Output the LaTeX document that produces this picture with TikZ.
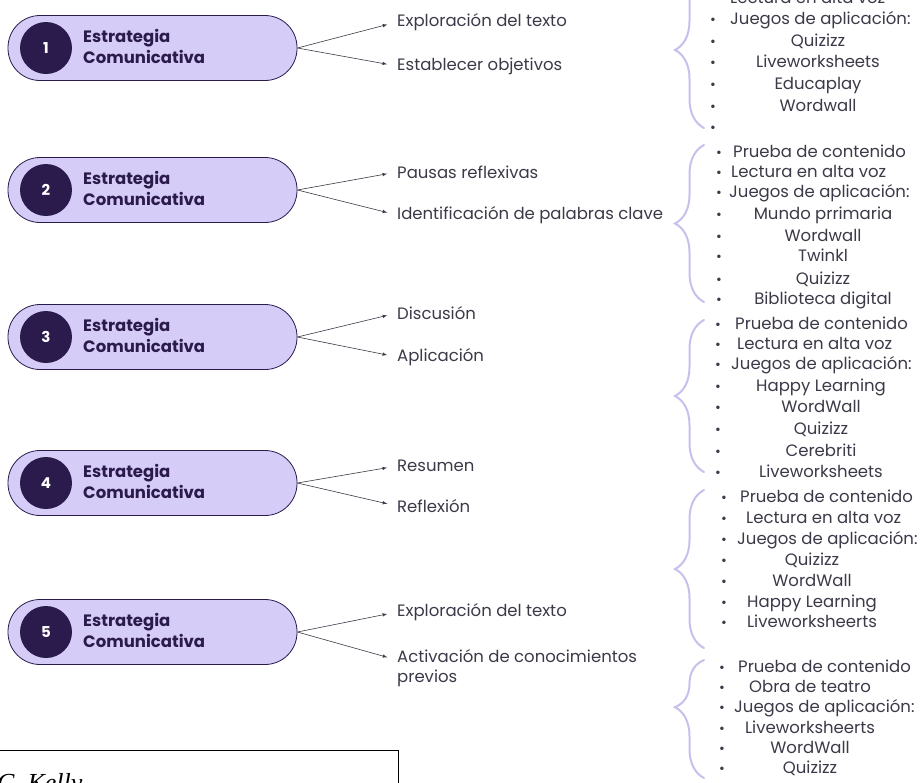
\documentclass[tikz,border=0pt]{standalone}
\usepackage{fontspec}
\setmainfont{Poppins}
\newfontfamily\capfont{Liberation Serif}
\usepackage{tikz}
\usetikzlibrary{arrows.meta,decorations.pathreplacing}

\definecolor{pillfill}{HTML}{D5CDF8}
\definecolor{darkpurple}{HTML}{2B1A4C}
\definecolor{bracecol}{HTML}{C8C0EC}
\definecolor{txtgray}{HTML}{3A3A48}

\begin{document}
\begin{tikzpicture}[x=1pt,y=-1pt,
    pill/.style={draw=darkpurple,line width=0.8pt,fill=pillfill,rounded corners=32pt,minimum width=289pt,minimum height=65pt},
    numcirc/.style={circle,fill=darkpurple,minimum size=52pt,inner sep=0pt,text=white,font=\bfseries\fontsize{15}{15}\selectfont},
    strtitle/.style={anchor=west,align=left,text=darkpurple,inner sep=0pt,font=\bfseries\fontsize{16.5}{21}\selectfont},
    brlabel/.style={anchor=west,align=left,text=txtgray,inner sep=0pt,font=\fontsize{16.5}{20}\selectfont},
    listitem/.style={text=txtgray,inner sep=0pt,text height=12pt,text depth=3pt,font=\fontsize{16.5}{18}\selectfont},
    bulletdot/.style={listitem,font=\fontsize{14}{14}\selectfont},
    arr/.style={draw=txtgray,line width=0.6pt,-{latex},shorten >=10pt},
    brc/.style={draw=bracecol,line width=2pt,line cap=round,decorate,decoration={brace,amplitude=29pt}}]

    \useasboundingbox (0,0) rectangle (920,782);
    \fill[white] (0,0) rectangle (920,782);
    \clip (0,0) rectangle (920,782);

    % strategies
    % nodes
    \node[pill] (s1) at (152.5,48) {};
    \node[pill] (s2) at (152.5,190) {};
    \node[pill] (s3) at (152.5,337) {};
    \node[pill] (s4) at (152.5,483) {};
    \node[pill] (s5) at (152.5,632) {};
    \node[numcirc] (c1) at (46,48) {1};
    \node[numcirc] (c2) at (46,190) {2};
    \node[numcirc] (c3) at (46,337) {3};
    \node[numcirc] (c4) at (46,483) {4};
    \node[numcirc] (c5) at (46,632) {5};
    \node[strtitle] (t1) at (83,46) {Estrategia\\Comunicativa};
    \node[strtitle] (t2) at (83,188) {Estrategia\\Comunicativa};
    \node[strtitle] (t3) at (83,335) {Estrategia\\Comunicativa};
    \node[strtitle] (t4) at (83,481) {Estrategia\\Comunicativa};
    \node[strtitle] (t5) at (83,630) {Estrategia\\Comunicativa};

    % branches
    \node[brlabel] (e1a) at (397,22) {Exploración del texto};
    \node[brlabel] (e1b) at (397,66) {Establecer objetivos};
    \node[brlabel] (e2a) at (397,172) {Pausas reflexivas};
    \node[brlabel] (e2b) at (397,215) {Identificación de palabras clave};
    \node[brlabel] (e3a) at (397,313) {Discusión};
    \node[brlabel] (e3b) at (397,357) {Aplicación};
    \node[brlabel] (e4a) at (397,466) {Resumen};
    \node[brlabel] (e4b) at (397,506) {Reflexión};
    \node[brlabel] (e5a) at (397,612) {Exploración del texto};
    \node[brlabel,anchor=north west] (e5b) at (397,649) {Activación de conocimientos\\previos};

    % paths
    \draw[arr] (s1.east) to (e1a.west);
    \draw[arr] (s1.east) to (e1b.west);
    \draw[arr] (s2.east) to (e2a.west);
    \draw[arr] (s2.east) to (e2b.west);
    \draw[arr] (s3.east) to (e3a.west);
    \draw[arr] (s3.east) to (e3b.west);
    \draw[arr] (s4.east) to (e4a.west);
    \draw[arr] (s4.east) to (e4b.west);
    \draw[arr] (s5.east) to (e5a.west);
    \draw[arr] (s5.east) to ([yshift=-11pt]e5b.north west);

    % braces
    \draw[brc] (704,128) -- (704,-28);
    \draw[brc] (704,302) -- (704,145);
    \draw[brc] (704,472) -- (704,320);
    \draw[brc] (704,648) -- (704,490);
    \draw[brc,decoration={aspect=0.6}] (704,778) -- (704,660);

    % list 1
    \node[bulletdot] (b1a) at (713,-1) {•};
    \node[bulletdot] (b1b) at (713,20) {•};
    \node[bulletdot] (b1c) at (713,42) {•};
    \node[bulletdot] (b1d) at (713,63) {•};
    \node[bulletdot] (b1e) at (713,85) {•};
    \node[bulletdot] (b1f) at (713,107) {•};
    \node[bulletdot] (b1g) at (713,128) {•};
    \node[listitem,anchor=west] (l1a) at (730,-1) {Lectura en alta voz};
    \node[listitem,anchor=west] (l1b) at (730,20) {Juegos de aplicación:};
    \node[listitem] (l1c) at (818,42) {Quizizz};
    \node[listitem] (l1d) at (818,63) {Liveworksheets};
    \node[listitem] (l1e) at (818,85) {Educaplay};
    \node[listitem] (l1f) at (818,107) {Wordwall};

    % list 2
    \node[bulletdot] (b2a) at (719,153) {•};
    \node[bulletdot] (b2b) at (719,173) {•};
    \node[bulletdot] (b2c) at (719,193) {•};
    \node[bulletdot] (b2d) at (719,215) {•};
    \node[bulletdot] (b2e) at (719,237) {•};
    \node[bulletdot] (b2f) at (719,257) {•};
    \node[bulletdot] (b2g) at (719,280) {•};
    \node[bulletdot] (b2h) at (719,300) {•};
    \node[listitem,anchor=west] (l2a) at (733,153) {Prueba de contenido};
    \node[listitem,anchor=west] (l2b) at (731,173) {Lectura en alta voz};
    \node[listitem,anchor=west] (l2c) at (729,193) {Juegos de aplicación:};
    \node[listitem] (l2d) at (823,215) {Mundo prrimaria};
    \node[listitem] (l2e) at (823,237) {Wordwall};
    \node[listitem] (l2f) at (823,257) {Twinkl};
    \node[listitem] (l2g) at (823,280) {Quizizz};
    \node[listitem] (l2h) at (823,300) {Biblioteca digital};

    % list 3
    \node[bulletdot] (b3a) at (718,325) {•};
    \node[bulletdot] (b3b) at (718,345) {•};
    \node[bulletdot] (b3c) at (718,365) {•};
    \node[bulletdot] (b3d) at (718,387) {•};
    \node[bulletdot] (b3e) at (718,408) {•};
    \node[bulletdot] (b3f) at (718,430) {•};
    \node[bulletdot] (b3g) at (718,452) {•};
    \node[bulletdot] (b3h) at (718,473) {•};
    \node[listitem,anchor=west] (l3a) at (735,325) {Prueba de contenido};
    \node[listitem,anchor=west] (l3b) at (737,345) {Lectura en alta voz};
    \node[listitem,anchor=west] (l3c) at (731,365) {Juegos de aplicación:};
    \node[listitem] (l3d) at (821,387) {Happy Learning};
    \node[listitem] (l3e) at (821,408) {WordWall};
    \node[listitem] (l3f) at (821,430) {Quizizz};
    \node[listitem] (l3g) at (821,452) {Cerebriti};
    \node[listitem] (l3h) at (821,473) {Liveworksheets};

    % list 4
    \node[bulletdot] (b4a) at (724,498) {•};
    \node[bulletdot] (b4b) at (724,519) {•};
    \node[bulletdot] (b4c) at (724,540) {•};
    \node[bulletdot] (b4d) at (724,561) {•};
    \node[bulletdot] (b4e) at (724,582) {•};
    \node[bulletdot] (b4f) at (724,603) {•};
    \node[bulletdot] (b4g) at (724,623) {•};
    \node[listitem,anchor=west] (l4a) at (740,498) {Prueba de contenido};
    \node[listitem,anchor=west] (l4b) at (746,519) {Lectura en alta voz};
    \node[listitem,anchor=west] (l4c) at (737,540) {Juegos de aplicación:};
    \node[listitem] (l4d) at (812,561) {Quizizz};
    \node[listitem] (l4e) at (812,582) {WordWall};
    \node[listitem] (l4f) at (812,603) {Happy Learning};
    \node[listitem] (l4g) at (812,623) {Liveworksheerts};

    % list 5
    \node[bulletdot] (b5a) at (722,668) {•};
    \node[bulletdot] (b5b) at (722,688) {•};
    \node[bulletdot] (b5c) at (722,708) {•};
    \node[bulletdot] (b5d) at (722,729) {•};
    \node[bulletdot] (b5e) at (722,749) {•};
    \node[bulletdot] (b5f) at (722,769) {•};
    \node[listitem,anchor=west] (l5a) at (738,668) {Prueba de contenido};
    \node[listitem] (l5b) at (810,688) {Obra de teatro};
    \node[listitem,anchor=west] (l5c) at (734,708) {Juegos de aplicación:};
    \node[listitem] (l5d) at (810,729) {Liveworksheerts};
    \node[listitem] (l5e) at (810,749) {WordWall};
    \node[listitem] (l5f) at (810,769) {Quizizz};

    % caption box
    \draw[line width=0.8pt] (-10,750) rectangle (398,800);
    \node[anchor=base west,inner sep=0pt,font=\capfont\itshape\fontsize{26}{26}\selectfont] (cap) at (-3,791) {C. Kelly};

\end{tikzpicture}
\end{document}
